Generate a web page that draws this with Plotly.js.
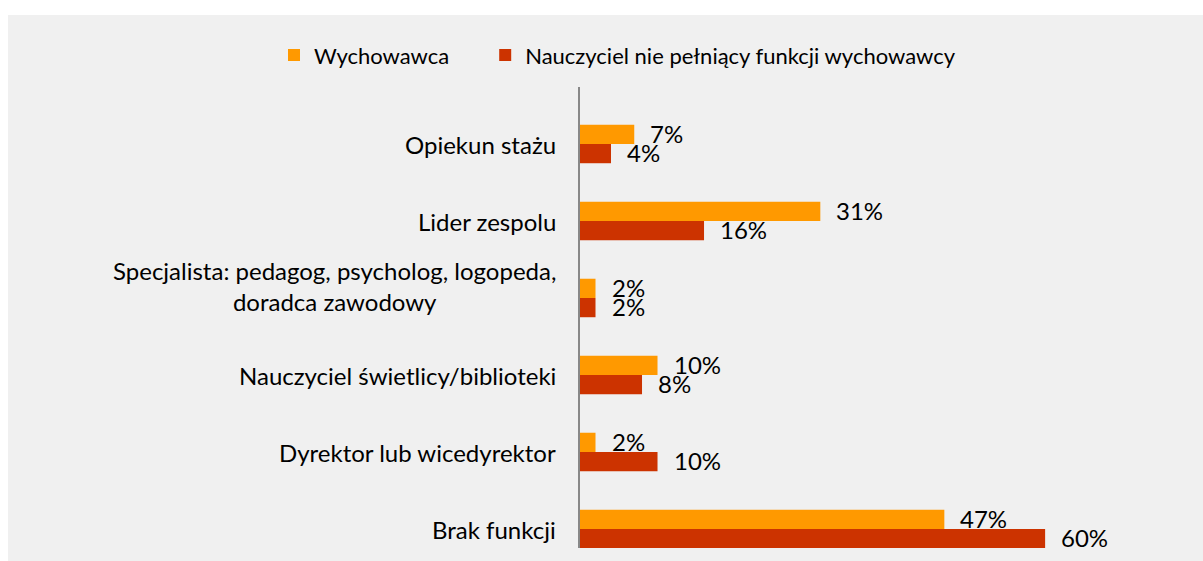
<!DOCTYPE html>
<html>
<head>
<meta charset="utf-8">
<script src="https://cdn.plot.ly/plotly-3.0.1.min.js"></script>
<style>
  html, body { margin: 0; padding: 0; background: #ffffff; }
  #wrap { position: absolute; left: 8px; top: 15px; width: 1195px; height: 546px; background: #f0f0f0; }
  #chart { width: 1195px; height: 546px; }
</style>
</head>
<body>
<div id="wrap"><div id="chart"></div></div>
<script>
const categories = [
  "Opiekun stażu",
  "Lider zespolu",
  "Specjalista: pedagog, psycholog, logopeda,<br>doradca zawodowy",
  "Nauczyciel świetlicy/biblioteki",
  "Dyrektor lub wicedyrektor",
  "Brak funkcji"
];
const seriesNames = ["Wychowawca", "Nauczyciel nie pełniący funkcji wychowawcy"];
const wychowawca = [7, 31, 2, 10, 2, 47];
const nauczyciel = [4, 16, 2, 8, 10, 60];
const colors = ["#FF9900", "#CC3300"];

const FONT = "Lato, 'Open Sans', sans-serif";
const FS = 24;
const LFS = 22;

const traces = [wychowawca, nauczyciel].map((vals, i) => ({
  type: "bar",
  orientation: "h",
  name: seriesNames[i],
  legend: i === 0 ? "legend" : "legend2",
  y: categories,
  x: vals,
  marker: { color: colors[i] },
  hoverinfo: "skip"
}));

const annotations = [];
// category labels
categories.forEach(c => {
  annotations.push({
    xref: "paper", yref: "y", x: 0, y: c, xanchor: "right", yanchor: "middle",
    xshift: -22, yshift: c.indexOf("<br>") >= 0 ? 12 : -1,
    text: c, showarrow: false, align: "center",
    font: { family: FONT, size: FS, color: "#000" }
  });
});
// data labels
[wychowawca, nauczyciel].forEach((vals, i) => {
  vals.forEach((v, j) => {
    annotations.push({
      xref: "x", yref: "y", x: v, y: categories[j], xanchor: "left", yanchor: "middle",
      xshift: 14, yshift: i === 0 ? 10 : -9, text: v + "%", showarrow: false,
      font: { family: FONT, size: FS, color: "#000" }
    });
  });
});

function legendAt(x) {
  return {
    orientation: "h", xref: "paper", yref: "paper",
    x: x, y: 1.069, xanchor: "left", yanchor: "middle",
    font: { family: FONT, size: LFS, color: "#000" },
    bgcolor: "rgba(0,0,0,0)", itemwidth: 30
  };
}

const layout = {
  width: 1195, height: 546,
  paper_bgcolor: "#f0f0f0", plot_bgcolor: "#f0f0f0",
  margin: { l: 572, r: 23, t: 72, b: 13 },
  barmode: "group", bargap: 0.5, bargroupgap: 0,
  showlegend: true,
  legend: legendAt(-0.51),
  legend2: legendAt(-0.158),
  xaxis: {
    range: [0, 77.4], showgrid: false, zeroline: false, showticklabels: false,
    showline: false, ticks: ""
  },
  yaxis: {
    type: "category", range: [5.247, -0.74], autorange: false, showticklabels: false,
    showgrid: false, zeroline: false, ticks: "",
    showline: true, linecolor: "#888888", linewidth: 2
  },
  annotations: annotations,
  font: { family: FONT, size: FS, color: "#000" }
};

Plotly.newPlot("chart", traces, layout, { displayModeBar: false, staticPlot: true });
</script>
</body>
</html>
